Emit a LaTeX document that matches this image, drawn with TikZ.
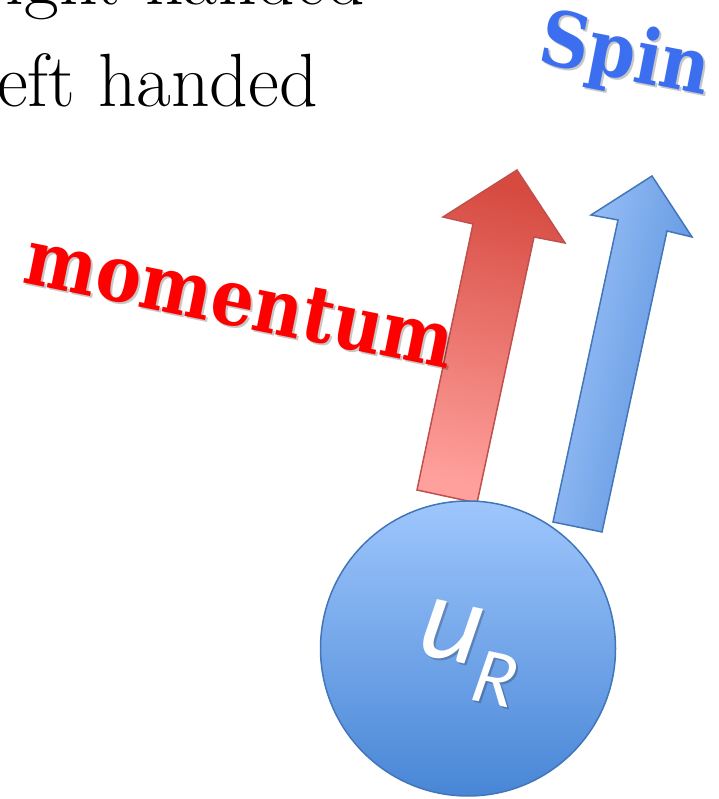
\documentclass[tikz,border=0pt]{standalone}
\usepackage{fontspec}
\newfontfamily\slabfont{DejaVu Serif}
\newfontfamily\calfont{Carlito}
\definecolor{momred}{RGB}{255,0,0}
\definecolor{spinblue}{RGB}{60,110,240}
\definecolor{redtop}{RGB}{214,74,64}
\definecolor{redbot}{RGB}{255,160,156}
\definecolor{redline}{RGB}{192,80,77}
\definecolor{bluelight}{RGB}{162,198,250}
\definecolor{bluedark}{RGB}{84,142,220}
\definecolor{blueline}{RGB}{66,118,184}
\definecolor{balltop}{RGB}{158,198,252}
\definecolor{ballbot}{RGB}{72,134,214}
\begin{document}
\begin{tikzpicture}[x=1pt,y=1pt,
  bigtext/.style={anchor=base east,inner sep=0,font=\fontsize{75.5}{75.5}\selectfont},
  slab/.style={anchor=base,inner sep=0,font=\slabfont\bfseries\fontsize{68}{68}\selectfont},
  textshadow/.style={text=black,opacity=0.22},
  redarrow/.style={draw=redline,line width=1.5pt,line join=miter,top color=redtop,bottom color=redbot,shading angle=-12},
  bluearrow/.style={draw=blueline,line width=1.5pt,line join=miter,left color=bluelight,right color=bluedark,shading angle=78},
  ball/.style={circle,draw=blueline,line width=1.5pt,minimum size=295pt,inner sep=0,top color=balltop,bottom color=ballbot}]
\useasboundingbox (0,0) rectangle (718,799);
% heading lines, cut at the border
\node[bigtext] (right) at (365,794) {right handed};
\node[bigtext] (left) at (318,692) {left handed};
% momentum and spin arrows
\draw[redarrow] (417,309) -- (473,575) -- (443,582) -- (517,629) -- (565,556) -- (534,562) -- (477,296) -- cycle;
\draw[bluearrow] (553,277) -- (618,579) -- (591,584) -- (652,623) -- (692,562) -- (667,568) -- (602,267) -- cycle;
% the quark
\node[ball] (uR) at (468,150.5) {};
\node[inner sep=0,rotate=-12,font=\calfont\itshape,textshadow] (uRshadow) at (471,144) {\fontsize{120}{120}\selectfont u\raisebox{-34pt}{\fontsize{80}{80}\selectfont R}};
\node[inner sep=0,rotate=-12,font=\calfont\itshape,text=white] (uRlabel) at (469,146) {\fontsize{120}{120}\selectfont u\raisebox{-34pt}{\fontsize{80}{80}\selectfont R}};
% labels
\node[slab,rotate=-11.5,yscale=1.15,textshadow] (momshadow) at (237,471) {momentum};
\node[slab,rotate=-11.5,yscale=1.15,text=momred] (momentum) at (235,473) {momentum};
\node[slab,rotate=-11,yscale=1.12,textshadow] (spinshadow) at (623,718) {Spin};
\node[slab,rotate=-11,yscale=1.12,text=spinblue] (spin) at (621,720) {Spin};
\end{tikzpicture}
\end{document}
